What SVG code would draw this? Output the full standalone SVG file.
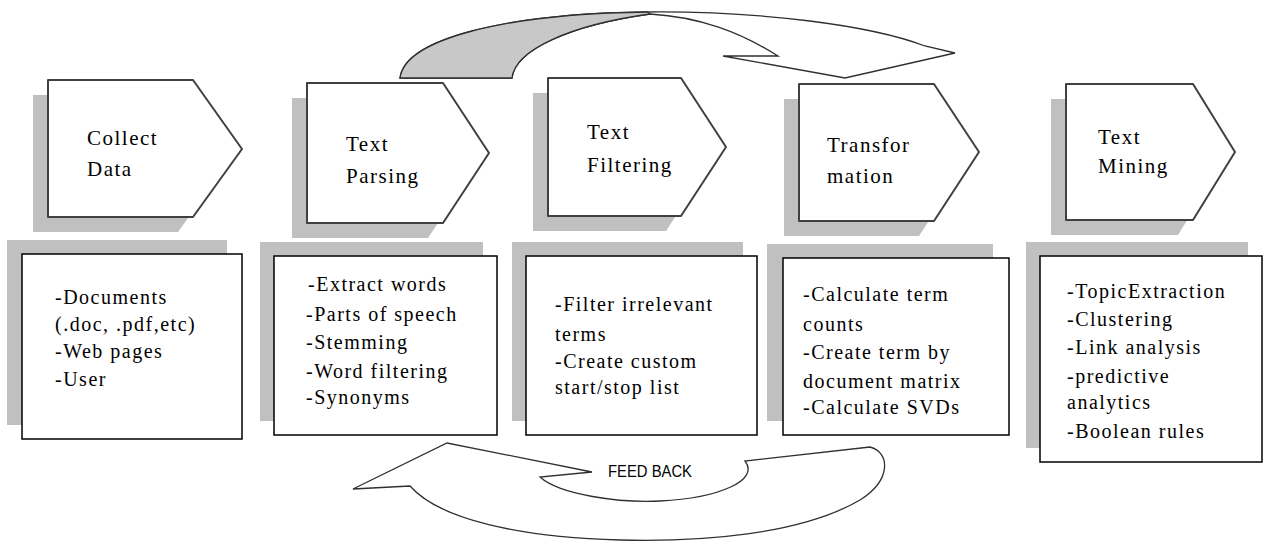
<svg xmlns="http://www.w3.org/2000/svg" width="1271" height="542" viewBox="0 0 1271 542">
<style>
.shadow{fill:#c0c0c0;stroke:none}
.pent{fill:#fff;stroke:#404040;stroke-width:2;stroke-linejoin:round}
.box{fill:#fff;stroke:#000;stroke-width:1.5}
.t{font-family:"Liberation Serif","Times New Roman",serif;font-size:20px;letter-spacing:1.5px;fill:#000}
.h{font-family:"Liberation Serif","Times New Roman",serif;font-size:21px;letter-spacing:1.5px;fill:#000}
.arrow{fill:#fff;stroke:#303030;stroke-width:1.3;stroke-linejoin:miter}
.fb{font-family:"Liberation Sans",Arial,sans-serif;font-size:16.5px;fill:#000}
</style>
<rect width="1271" height="542" fill="#fff"/>
<g id="connectors">
<path class="arrow" d="M400,78 C405,40 500,14 647,12 C760,11 870,25 925,46 L955,53 L845,78 L723,56 L778,56 C740,32 700,17 650,14 C570,25 515,50 512,78 Z"/>
<path d="M400,78 C405,40 500,14 647,12 L650,14 C570,25 515,50 512,78 Z" fill="#c8c8c8" stroke="#303030" stroke-width="1.3"/>
<path class="arrow" d="M353,489 L447,443 L592,472 L540,477 C560,495 620,503 660,501 C720,498 760,480 745,461 L870,447 C890,452 892,480 860,500 C800,535 700,542 620,540 C520,537 440,520 410,486 Z"/>
<text class="fb" x="608" y="477" textLength="84" lengthAdjust="spacingAndGlyphs">FEED BACK</text>
</g>
<g id="collect-data">
<path class="shadow" transform="translate(-15,15)" d="M48,80 L193,80 L242,149 L193,217 L48,217 Z"/>
<path class="pent" d="M48,80 L193,80 L242,149 L193,217 L48,217 Z"/>
<text class="h" x="87" y="145">Collect</text>
<text class="h" x="87" y="176">Data</text>
</g>
<g id="text-parsing">
<path class="shadow" transform="translate(-15,15)" d="M307,83 L443,83 L489,153 L443,223 L307,223 Z"/>
<path class="pent" d="M307,83 L443,83 L489,153 L443,223 L307,223 Z"/>
<text class="h" x="346" y="151">Text</text>
<text class="h" x="346" y="183">Parsing</text>
</g>
<g id="text-filtering">
<path class="shadow" transform="translate(-15,15)" d="M548,78 L681,78 L726,147 L681,216 L548,216 Z"/>
<path class="pent" d="M548,78 L681,78 L726,147 L681,216 L548,216 Z"/>
<text class="h" x="587" y="139">Text</text>
<text class="h" x="587" y="172">Filtering</text>
</g>
<g id="transformation">
<path class="shadow" transform="translate(-15,15)" d="M799,84 L934,84 L979,152 L934,221 L799,221 Z"/>
<path class="pent" d="M799,84 L934,84 L979,152 L934,221 L799,221 Z"/>
<text class="h" x="827" y="152">Transfor</text>
<text class="h" x="827" y="183">mation</text>
</g>
<g id="text-mining">
<path class="shadow" transform="translate(-15,15)" d="M1066,84 L1193,84 L1235,152 L1193,220 L1066,220 Z"/>
<path class="pent" d="M1066,84 L1193,84 L1235,152 L1193,220 L1066,220 Z"/>
<text class="h" x="1098" y="144">Text</text>
<text class="h" x="1098" y="173">Mining</text>
</g>
<g id="box-collect">
<rect class="shadow" x="7" y="240" width="220" height="185"/>
<rect class="box" x="22" y="254" width="220" height="185"/>
<text class="t" x="55" y="304">-Documents</text>
<text class="t" x="55" y="331">(.doc, .pdf,etc)</text>
<text class="t" x="55" y="358">-Web pages</text>
<text class="t" x="55" y="386">-User</text>
</g>
<g id="box-parsing">
<rect class="shadow" x="260" y="242" width="223" height="179"/>
<rect class="box" x="274" y="256" width="223" height="179"/>
<text class="t" x="308" y="291">-Extract words</text>
<text class="t" x="306" y="321">-Parts of speech</text>
<text class="t" x="306" y="349">-Stemming</text>
<text class="t" x="306" y="378">-Word filtering</text>
<text class="t" x="306" y="404">-Synonyms</text>
</g>
<g id="box-filtering">
<rect class="shadow" x="512" y="242" width="231" height="179"/>
<rect class="box" x="526" y="256" width="231" height="179"/>
<text class="t" x="555" y="311">-Filter irrelevant</text>
<text class="t" x="555" y="341">terms</text>
<text class="t" x="555" y="368">-Create custom</text>
<text class="t" x="555" y="394">start/stop list</text>
</g>
<g id="box-transformation">
<rect class="shadow" x="767" y="244" width="226" height="177"/>
<rect class="box" x="783" y="258" width="226" height="177"/>
<text class="t" x="803" y="301">-Calculate term</text>
<text class="t" x="803" y="331">counts</text>
<text class="t" x="803" y="359">-Create term by</text>
<text class="t" x="803" y="388">document matrix</text>
<text class="t" x="803" y="414">-Calculate SVDs</text>
</g>
<g id="box-mining">
<rect class="shadow" x="1026" y="242" width="222" height="206"/>
<rect class="box" x="1040" y="256" width="222" height="206"/>
<text class="t" x="1067" y="298">-TopicExtraction</text>
<text class="t" x="1067" y="326">-Clustering</text>
<text class="t" x="1067" y="354">-Link analysis</text>
<text class="t" x="1067" y="383">-predictive</text>
<text class="t" x="1067" y="409">analytics</text>
<text class="t" x="1067" y="438">-Boolean rules</text>
</g>
</svg>
